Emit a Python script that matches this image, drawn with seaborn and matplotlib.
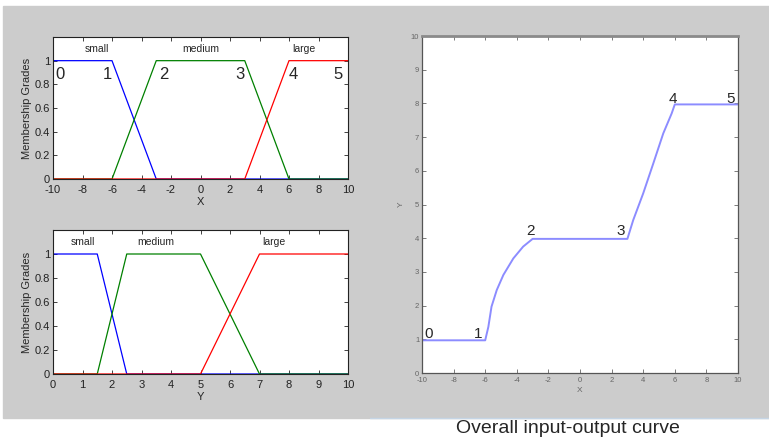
import numpy as np
import pandas as pd
import matplotlib
matplotlib.use("Agg")
import matplotlib.pyplot as plt
import seaborn as sns
from matplotlib.patches import Rectangle
from matplotlib.lines import Line2D

# membership functions of the input X (breakpoints)
x_small_x = [-10, -6, -3, 10]
x_small_y = [1, 1, 0, 0]
x_medium_x = [-10, -6, -3, 3, 6, 10]
x_medium_y = [0, 0, 1, 1, 0, 0]
x_large_x = [-10, 3, 6, 10]
x_large_y = [0, 0, 1, 1]

# membership functions of the output Y
y_small_x = [0, 1.5, 2.5, 10]
y_small_y = [1, 1, 0, 0]
y_medium_x = [0, 1.5, 2.5, 5, 7, 10]
y_medium_y = [0, 0, 1, 1, 0, 0]
y_large_x = [0, 5, 7, 10]
y_large_y = [0, 0, 1, 1]

mf_names = ["small", "medium", "large"]
x_name_pos = [-7, 0, 7]
y_name_pos = [1, 3.5, 7.5]

# overall input-output curve
curve_x = [-10, -6, -5.8, -5.6, -5.27, -4.85, -4.22, -3.6, -3.0, 3.0, 3.37, 4.0, 4.64, 5.27, 5.8, 6.0, 10]
curve_y = [0.97, 0.97, 1.37, 1.97, 2.46, 2.91, 3.40, 3.75, 3.98, 3.98, 4.54, 5.33, 6.22, 7.11, 7.70, 7.97, 7.97]

# rule points 0..5
pts_labels = ["0", "1", "2", "3", "4", "5"]
pts_top_x = [-9.5, -6.3, -2.5, 2.7, 6.3, 9.3]
pts_curve_x = [-9.55, -6.45, -3.15, 2.55, 5.9, 9.5]
pts_curve_y = [1.16, 1.16, 4.2, 4.2, 8.13, 8.13]

sns.set_style("ticks")
plt.rcParams["font.family"] = ["Liberation Sans Narrow", "Liberation Sans", "DejaVu Sans"]
plt.rcParams["axes.unicode_minus"] = False

fig = plt.figure(figsize=(7.69, 4.40), dpi=100)
fig.add_artist(Rectangle((3 / 769, 1 - 418 / 440), 1, (418 - 6) / 440,
                         transform=fig.transFigure, color="#cccccc", zorder=-10))
fig.add_artist(Line2D([370 / 769, 1], [1 - 417.5 / 440] * 2, transform=fig.transFigure,
                      color="#c5d5e5", lw=1))

colors = ["#0000ff", "#008000", "#ff0000"]


def mf_axes(rect, curves, xlim, xticks, names, name_pos, xlabel):
    ax = fig.add_axes(rect)
    ax.set_facecolor("white")
    for (cx, cy), c in zip(curves, colors):
        sns.lineplot(x=cx, y=cy, ax=ax, color=c, lw=0.9, sort=False)
    for n, p in zip(names, name_pos):
        ax.text(p, 1.1, n, ha="center", va="center", fontsize=7.5)
    ax.set_xlim(xlim)
    ax.set_ylim(0, 1.2)
    ax.set_xticks(xticks)
    ax.set_yticks([0, 0.2, 0.4, 0.6, 0.8, 1])
    ax.set_yticklabels(["0", "0.2", "0.4", "0.6", "0.8", "1"])
    ax.tick_params(direction="in", top=True, right=True, labelsize=8, length=3,
                   width=0.6, pad=2, colors="#222222")
    ax.tick_params(axis="x", pad=4.5)
    for s in ax.spines.values():
        s.set_linewidth(0.8)
        s.set_color("#222222")
    ax.set_xlabel(xlabel, fontsize=8, labelpad=1)
    ax.set_ylabel("Membership Grades", fontsize=8, labelpad=2)
    return ax


ax1 = mf_axes([53 / 769, 1 - 179 / 440, 295 / 769, 142 / 440],
              [(x_small_x, x_small_y), (x_medium_x, x_medium_y), (x_large_x, x_large_y)],
              (-10, 10), range(-10, 11, 2), mf_names, x_name_pos, "X")
for lab, px in zip(pts_labels, pts_top_x):
    ax1.text(px, 0.88, lab, ha="center", va="center", fontsize=12,
             family=["Liberation Sans", "DejaVu Sans"])

ax2 = mf_axes([53 / 769, 1 - 374 / 440, 295 / 769, 144 / 440],
              [(y_small_x, y_small_y), (y_medium_x, y_medium_y), (y_large_x, y_large_y)],
              (0, 10), range(0, 11, 1), mf_names, y_name_pos, "Y")

# overall curve
ax3 = fig.add_axes([422 / 769, 1 - 373 / 440, 316 / 769, 337 / 440])
ax3.set_facecolor("white")
df = pd.DataFrame({"X": curve_x, "Y": curve_y})
sns.lineplot(data=df, x="X", y="Y", ax=ax3, color="#8c8cff", lw=1.4, sort=False)
for lab, px, py in zip(pts_labels, pts_curve_x, pts_curve_y):
    ax3.text(px, py, lab, ha="center", va="center", fontsize=11,
             family=["Liberation Sans", "DejaVu Sans"])
ax3.set_xlim(-10, 10)
ax3.set_ylim(0, 10)
ax3.set_xticks(range(-10, 11, 2))
ax3.set_yticks(range(0, 11))
ax3.tick_params(direction="in", top=True, right=True, labelsize=5.5, length=3,
                width=0.6, pad=2, colors="#666666")
ax3.tick_params(axis="x", pad=3)
for s in ax3.spines.values():
    s.set_linewidth(0.9)
    s.set_color("#555555")
ax3.spines["top"].set_linewidth(2)
ax3.spines["top"].set_color("#8a8a8a")
ax3.set_xlabel("X", fontsize=6, color="#666666", labelpad=2)
ax3.set_ylabel("Y", fontsize=6, color="#666666", labelpad=4)

fig.text(568 / 769, 1 - 428 / 440, "Overall input-output curve", ha="center", va="center",
         fontsize=14, family=["Liberation Sans", "DejaVu Sans"])

fig.savefig("out.png", dpi=100)
